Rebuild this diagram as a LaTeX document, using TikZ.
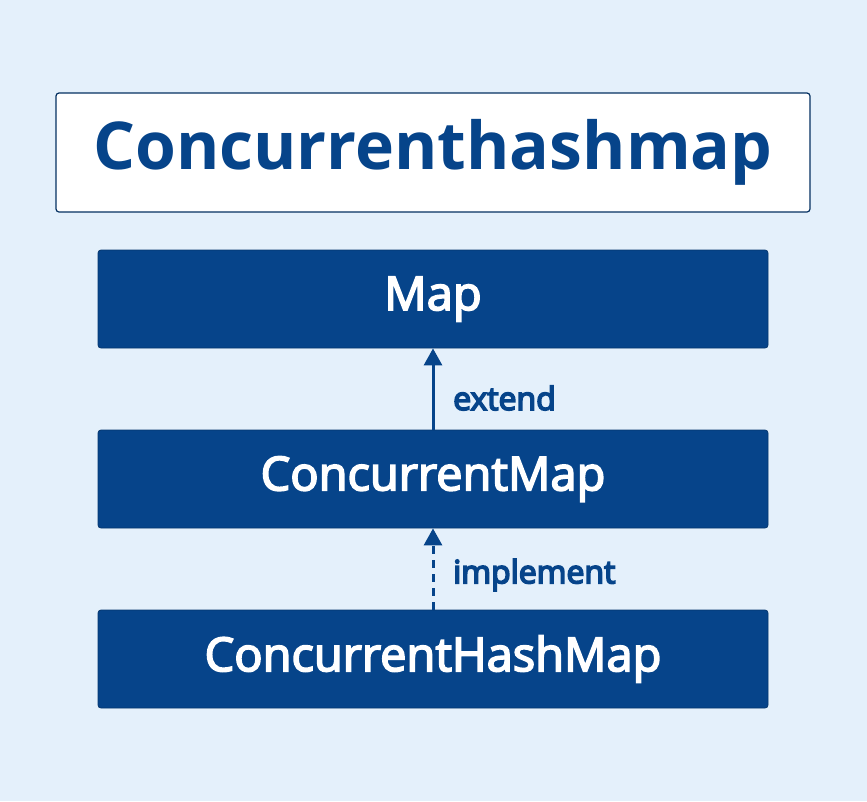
\documentclass[tikz,border=0pt]{standalone}
\usepackage{fontspec}
\setmainfont{Open Sans}
\newfontfamily\medfont{Open Sans}[FakeBold=3.5]
\newfontfamily\labfont{Open Sans}[FakeBold=5]
\usetikzlibrary{arrows.meta}
\definecolor{bg}{HTML}{E4F0FB}
\definecolor{navy}{HTML}{06448A}
\begin{document}
\begin{tikzpicture}[x=1pt,y=-1pt,
  classbox/.style={draw=navy!80!black,line width=0.8pt,fill=navy,rounded corners=3pt,minimum width=670pt,minimum height=98pt,inner sep=0pt,text=white,font=\medfont\fontsize{47}{56}\selectfont},
  relarrow/.style={navy,line width=3pt,-{Triangle[length=17pt,width=18pt]}},
  rellabel/.style={text=navy,anchor=west,font=\labfont\fontsize{32}{38}\selectfont,inner sep=0pt}]
\fill[bg] (0,0) rectangle (867,801);
\useasboundingbox (0,0) rectangle (867,801);
\node[draw=navy!70!black,line width=1.2pt,fill=white,rounded corners=3pt,minimum width=754pt,minimum height=119pt,inner sep=0pt,text=navy,font=\bfseries\fontsize{66}{76}\selectfont] (title) at (433,152.5) {Concurrenthashmap};
\node[classbox] (map) at (433,299) {Map};
\node[classbox] (cmap) at (433,479) {ConcurrentMap};
\node[classbox] (chm) at (433,659) {ConcurrentHashMap};
\draw[relarrow] (cmap.north) -- (map.south);
\draw[relarrow,dash pattern=on 8pt off 6pt] (chm.north) -- (cmap.south);
\node[rellabel] (ext) at (453,398) {extend};
\node[rellabel] (impl) at (453,575) {implement};
\end{tikzpicture}
\end{document}
